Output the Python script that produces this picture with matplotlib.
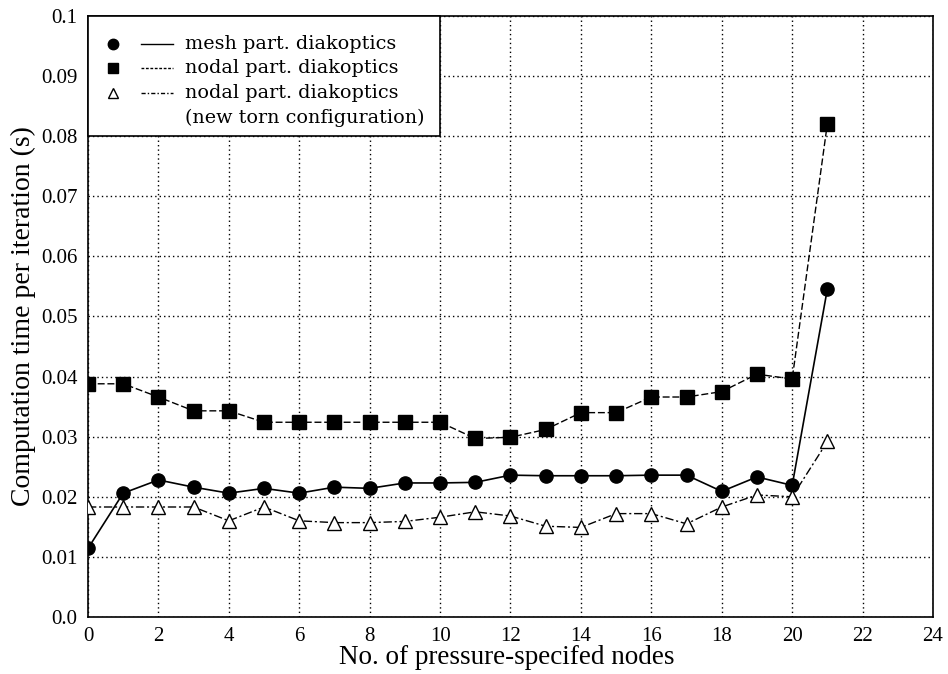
import matplotlib
matplotlib.use("Agg")
import matplotlib.pyplot as plt
from matplotlib.patches import Rectangle
from matplotlib.ticker import FixedLocator, FuncFormatter

x = list(range(22))
mesh = [0.0114, 0.0206, 0.0228, 0.0216, 0.0206, 0.0214, 0.0206, 0.0216, 0.0214, 0.0223, 0.0223,
        0.0224, 0.0236, 0.0235, 0.0235, 0.0235, 0.0236, 0.0236, 0.0209, 0.0233, 0.0219, 0.0546]
nodal = [0.0388, 0.0388, 0.0366, 0.0343, 0.0343, 0.0324, 0.0324, 0.0324, 0.0324, 0.0324, 0.0324,
         0.0297, 0.0299, 0.0312, 0.0340, 0.0340, 0.0366, 0.0366, 0.0375, 0.0404, 0.0396, 0.0821]
torn = [0.0183, 0.0183, 0.0183, 0.0183, 0.0160, 0.0183, 0.0160, 0.0157, 0.0157, 0.0159, 0.0166,
        0.0175, 0.0168, 0.0151, 0.0149, 0.0172, 0.0172, 0.0155, 0.0183, 0.0203, 0.0200, 0.0292]
labels = ["mesh part. diakoptics", "nodal part. diakoptics",
          "nodal part. diakoptics\n(new torn configuration)"]
xticks = list(range(0, 25, 2))
yticks = [0.0, 0.01, 0.02, 0.03, 0.04, 0.05, 0.06, 0.07, 0.08, 0.09, 0.1]

plt.rcParams['font.family'] = ['Liberation Serif', 'DejaVu Serif']

fig = plt.figure(figsize=(9.48, 6.74), dpi=100)
ax = fig.add_axes([0.0928, 0.0846, 0.8914, 0.8917])

styles = [
    dict(ls='-', lw=1.2, marker='o', mfc='black'),
    dict(ls=(0, (5, 2)), lw=1.0, marker='s', mfc='black'),
    dict(ls=(0, (6, 2, 1.5, 2)), lw=1.0, marker='^', mfc='white'),
]
for ys, st in zip([mesh, nodal, torn], styles):
    ax.plot(x, ys, color='black', ls=st['ls'], lw=st['lw'], marker=st['marker'], ms=9.5,
            mfc=st['mfc'], mec='black', mew=1.0, zorder=3)

ax.set_xlim(0, 24)
ax.set_ylim(0, 0.1)
ax.xaxis.set_major_locator(FixedLocator(xticks))
ax.yaxis.set_major_locator(FixedLocator(yticks))
ax.yaxis.set_major_formatter(FuncFormatter(lambda v, p: "0.0" if v == 0 else ("0.1" if abs(v - 0.1) < 1e-9 else f"{v:.2f}")))
ax.grid(True, color='black', ls=(0, (1, 2.2)), lw=1.0)
ax.tick_params(axis='both', length=0, labelsize=15)
ax.tick_params(axis='x', pad=7.5)
ax.tick_params(axis='y', pad=7.5)
for s in ax.spines.values():
    s.set_linewidth(1.2)

ax.set_xlabel("No. of pressure-specifed nodes", fontsize=19.5, labelpad=0)
ax.xaxis.set_label_coords(0.495, -0.047)
ax.set_ylabel("Computation time per iteration (s)", fontsize=20, labelpad=4)

# legend box spanning x 0..10 and y 0.08..0.1 (as in the reference), drawn manually
ax.add_patch(Rectangle((xticks[0], yticks[8]), xticks[5] - xticks[0], yticks[10] - yticks[8],
                       facecolor='white', edgecolor='black', lw=1.2, zorder=5, clip_on=False))
tr = ax.transAxes
leg_ls = ['-', (0, (2, 1.2)), (0, (3, 1.5, 1, 1.5))]
row_y = [0.954, 0.913, 0.872]
line_gap = 0.042
for st, lab, ry, lls in zip(styles, labels, row_y, leg_ls):
    ax.plot([0.030], [ry], transform=tr, ls='none', marker=st['marker'], ms=7.5,
            mfc=st['mfc'], mec='black', mew=1.0, zorder=6, clip_on=False)
    ax.plot([0.063, 0.1006], [ry, ry], transform=tr, color='black', ls=lls, lw=1.0,
            zorder=6, clip_on=False)
    for k, part in enumerate(lab.split('\n')):
        ax.text(0.115, ry - k * line_gap, part, transform=tr, ha='left', va='center',
                fontsize=13.8, family=['DejaVu Serif'], zorder=6)

fig.savefig("out.png", dpi=100)
